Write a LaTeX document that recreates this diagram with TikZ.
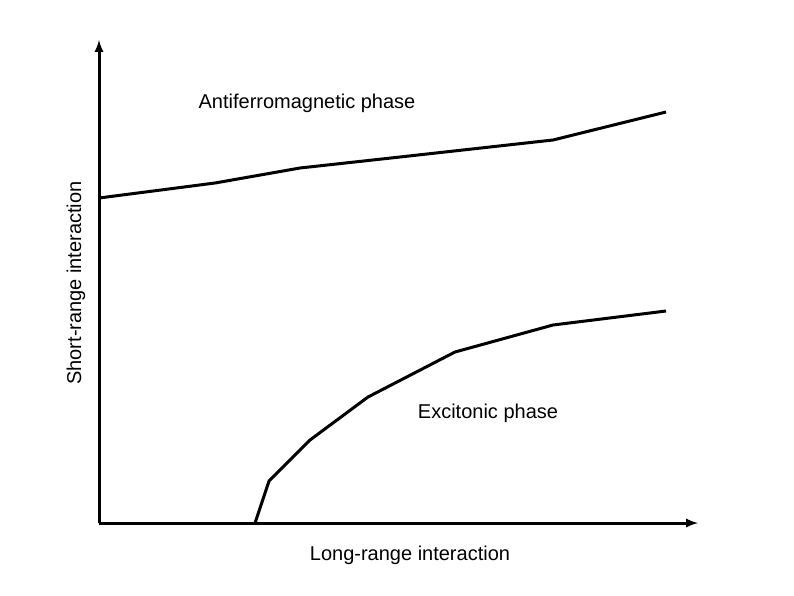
\documentclass[tikz,border=0pt]{standalone}
\usepackage{fontspec}
\setmainfont{Liberation Sans}
\begin{document}
\begin{tikzpicture}[x=1pt,y=-1pt,
  curve/.style={line width=3pt,line join=round},
  lab/.style={font=\fontsize{20}{24}\selectfont,inner sep=0pt}]
\useasboundingbox (0,0) rectangle (794,595);
\coordinate (o) at (99,523);
\coordinate (yt) at (99,40);
\coordinate (xt) at (698,523);
\draw[line width=3pt,-latex] (o) -- (yt);
\draw[line width=3pt,-latex] (o) -- (xt);
\draw[curve] (99,198) -- (215,183) -- (300,168) -- (400,157) -- (553,140) -- (666,112);
\draw[curve] (255,523) -- (269,481) -- (310,440) -- (368,397) -- (455,352) -- (553,325) -- (666,311);
\node[lab] (a) at (307,103) {Antiferromagnetic phase};
\node[lab] (e) at (488,413) {Excitonic phase};
\node[lab] (x) at (410,555) {Long-range interaction};
\node[lab,rotate=90] (y) at (76,283) {Short-range interaction};
\end{tikzpicture}
\end{document}
